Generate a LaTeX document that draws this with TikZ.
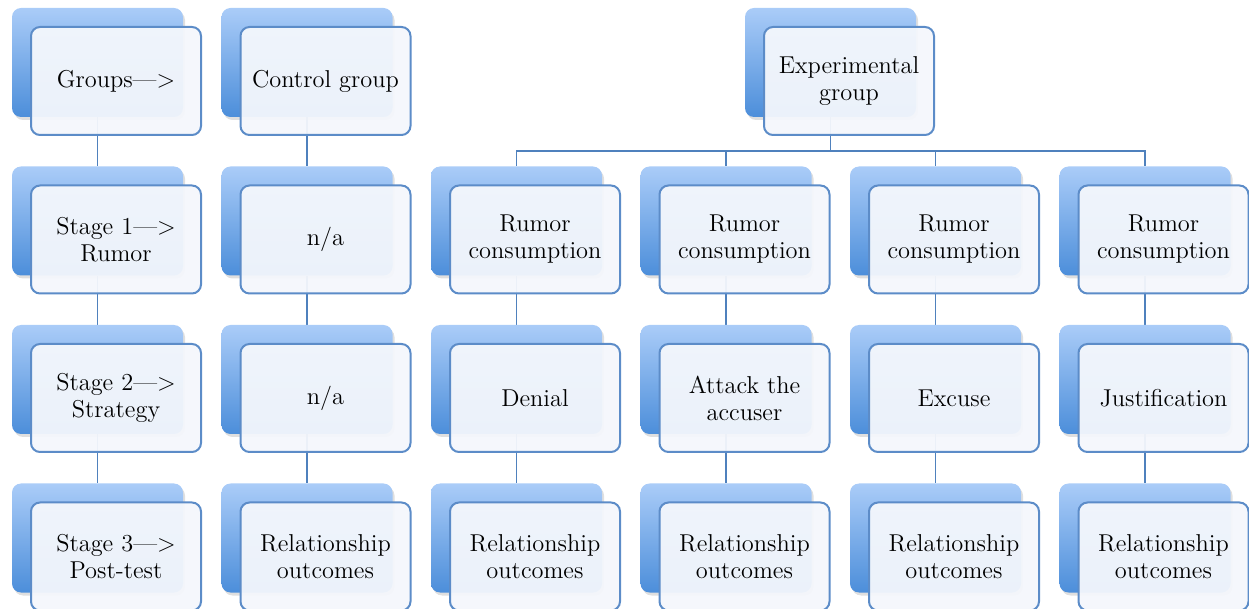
\documentclass[tikz,border=0pt]{standalone}
\usepackage{fontspec}
\usetikzlibrary{calc,shadows,backgrounds}

\definecolor{boxline}{RGB}{92,140,200}
\definecolor{linkline}{RGB}{79,129,189}
\definecolor{backtop}{RGB}{170,204,248}
\definecolor{backbot}{RGB}{76,142,218}
\definecolor{frontfill}{RGB}{244,247,252}

\begin{document}
\begin{tikzpicture}[x=0.5pt,y=-0.5pt,
  back/.style={rectangle,rounded corners=4.5pt,minimum width=85.5pt,minimum height=54.5pt,
    top color=backtop,bottom color=backbot,
    drop shadow={opacity=0.25,shadow xshift=1pt,shadow yshift=-1.5pt}},
  front/.style={rectangle,rounded corners=4.5pt,draw=boxline,line width=1pt,
    fill=frontfill,fill opacity=0.95,text opacity=1,minimum width=85pt,minimum height=54pt,
    align=center,font=\fontsize{12.2}{13.5}\selectfont},
  link/.style={draw=linkline,line width=0.8pt}]
  \useasboundingbox (0,0) rectangle (1249,609);
  % columnas de la izquierda
  \foreach \c/\x in {1/97.5,2/307}
    \foreach \r/\y in {1/62.5,2/221,3/379.5,4/538}
      \node[back] (b\c-\r) at (\x,\y) {};
  \foreach \r/\t in {1/{Groups—>},2/{Stage 1—>\\Rumor},3/{Stage 2—>\\Strategy},4/{Stage 3—>\\Post-test}}
    \node[front] (f1-\r) at ($(b1-\r)+(18.5,18.5)$) {\t};
  \foreach \r/\t in {1/{Control group},2/{n/a},3/{n/a},4/{Relationship\\outcomes}}
    \node[front] (f2-\r) at ($(b2-\r)+(18.5,18.5)$) {\t};
  % grupo experimental
  \node[back] (bE) at (830.5,62.5) {};
  \node[front] (fE) at ($(bE)+(18.5,18.5)$) {Experimental\\group};
  \foreach \c/\x/\t in {3/516.5/Denial,4/726/{Attack the\\accuser},5/935.5/Excuse,6/1145/Justification}{
    \foreach \r/\y in {2/221,3/379.5,4/538}
      \node[back] (b\c-\r) at (\x,\y) {};
    \node[front] (f\c-2) at ($(b\c-2)+(18.5,18.5)$) {Rumor\\consumption};
    \node[front] (f\c-3) at ($(b\c-3)+(18.5,18.5)$) {\t};
    \node[front] (f\c-4) at ($(b\c-4)+(18.5,18.5)$) {Relationship\\outcomes};
  }
  % conectores
  \begin{scope}[on background layer]
    \foreach \c in {1,2}
      \draw[link] (b\c-1.south) -- (b\c-2.north);
    \foreach \c in {1,...,6}{
      \draw[link] (b\c-2.south) -- (b\c-3.north);
      \draw[link] (b\c-3.south) -- (b\c-4.north);
    }
    \coordinate (bus) at (0,151);
    \foreach \c in {3,...,6}
      \draw[link] (bE.south) -- (bE.south |- bus) -| (b\c-2.north);
  \end{scope}
\end{tikzpicture}
\end{document}
